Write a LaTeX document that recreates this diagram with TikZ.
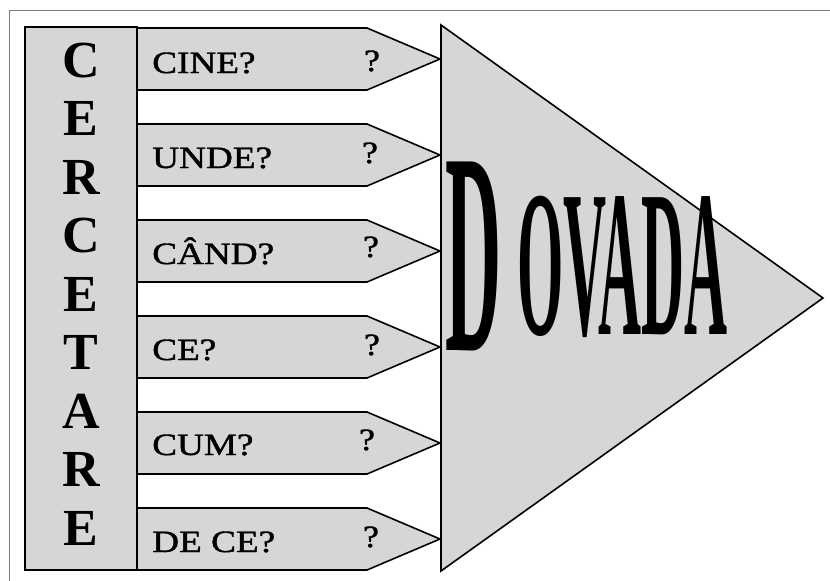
\documentclass[tikz,border=0pt]{standalone}
\usepackage{fontspec}
\setmainfont{Liberation Serif}
\newfontfamily\qfont[FakeBold=1.2]{Liberation Serif}
\usetikzlibrary{positioning}
\definecolor{mygray}{RGB}{214,214,212}
\definecolor{framegray}{RGB}{125,125,125}

\begin{document}
\begin{tikzpicture}[
  x=1pt, y=-1pt,
  panel/.style={draw=black, fill=mygray, line width=1.6pt,
    line join=miter},
  letter/.style={font=\fontsize{52}{52}\selectfont\bfseries,
    anchor=base, inner sep=0pt},
  qtext/.style={font=\fontsize{31}{31}\selectfont\qfont,
    anchor=base west, inner sep=0pt, xscale=1.2},
  qmark/.style={font=\fontsize{31}{31}\selectfont\qfont,
    anchor=base, inner sep=0pt, xscale=1.15},
  bigD/.style={font=\fontsize{288}{288}\selectfont\bfseries,
    anchor=base west, inner sep=0pt, xscale=0.27},
  bigrest/.style={font=\fontsize{209}{209}\selectfont\bfseries,
    anchor=base west, inner sep=0pt, xscale=0.285}
]
\useasboundingbox (0,0) rectangle (830,581);
\fill[white] (0,0) rectangle (830,581);
\draw[framegray, line width=0.8pt] (830,10) -- (9,10) -- (9,581);

% big triangle
\draw[panel] (441,25) -- (823,298) -- (441,571) -- cycle;
\node[bigD] (dovD) at (445,350) {D};
\node[bigrest] (dovRest) at (517,334) {OVADA};

% left column
\draw[panel] (25,27) rectangle (137,570);
\node[letter] (c1) at (81,77) {C};
\node[letter] (c2) at (81,135.5) {E};
\node[letter] (c3) at (81,194) {R};
\node[letter] (c4) at (81,252.5) {C};
\node[letter] (c5) at (81,311) {E};
\node[letter] (c6) at (81,369.5) {T};
\node[letter] (c7) at (81,428) {A};
\node[letter] (c8) at (81,486.5) {R};
\node[letter] (c9) at (81,545) {E};

% question arrows
\draw[panel] (137,28) -- (367,28) -- (440,59) -- (367,90) -- (137,90) -- cycle;
\node[qtext] (q1) at (152,73) {CINE?};
\node[qmark] (m1) at (372,71) {?};

\draw[panel] (137,124) -- (367,124) -- (440,155) -- (367,186) -- (137,186) -- cycle;
\node[qtext] (q2) at (152,168) {UNDE?};
\node[qmark] (m2) at (370,163) {?};

\draw[panel] (137,220) -- (367,220) -- (440,251) -- (367,282) -- (137,282) -- cycle;
\node[qtext] (q3) at (152,264) {CÂND?};
\node[qmark] (m3) at (371,257) {?};

\draw[panel] (137,316) -- (367,316) -- (440,347) -- (367,378) -- (137,378) -- cycle;
\node[qtext] (q4) at (152,360) {CE?};
\node[qmark] (m4) at (372,355) {?};

\draw[panel] (137,412) -- (367,412) -- (440,443) -- (367,474) -- (137,474) -- cycle;
\node[qtext] (q5) at (152,455) {CUM?};
\node[qmark] (m5) at (367,450) {?};

\draw[panel] (137,508) -- (367,508) -- (440,539) -- (367,570) -- (137,570) -- cycle;
\node[qtext] (q6) at (152,552) {DE CE?};
\node[qmark] (m6) at (371,547) {?};
\end{tikzpicture}
\end{document}
